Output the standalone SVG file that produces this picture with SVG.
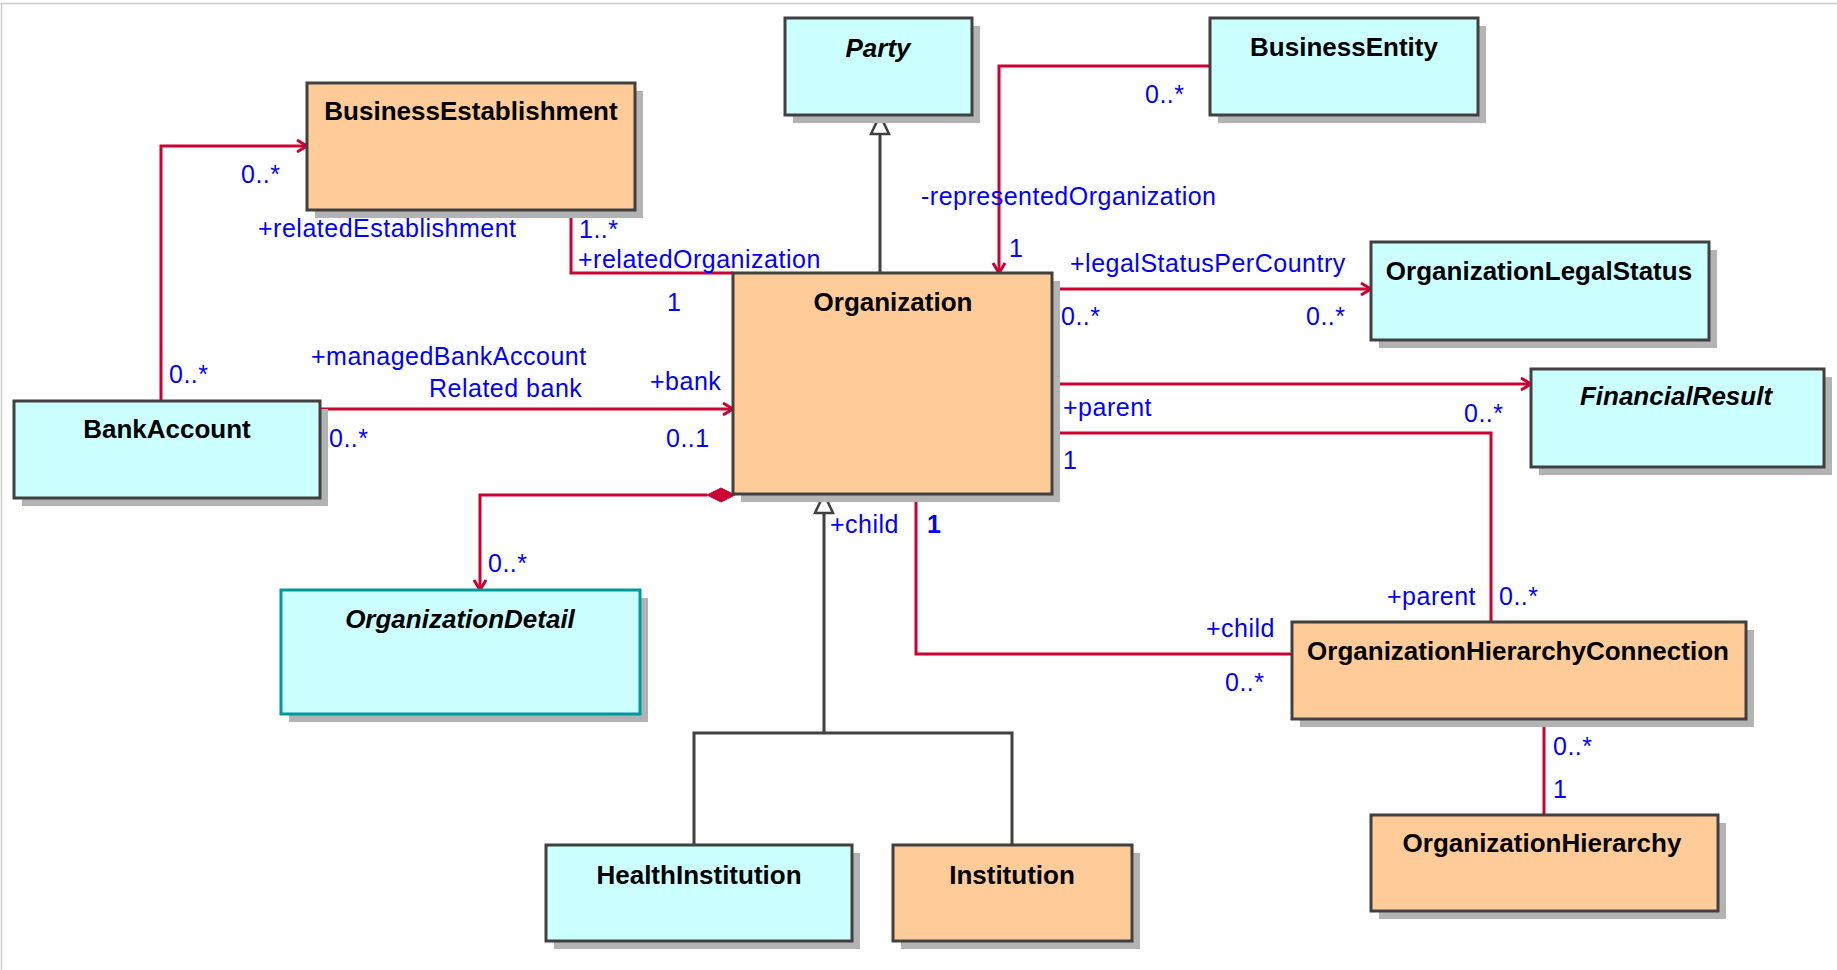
<svg xmlns="http://www.w3.org/2000/svg" width="1837" height="970" viewBox="0 0 1837 970">
<style>
.shadow{fill:#b3b3b3;}
.box{stroke:#404040;stroke-width:3;}
.orange{fill:#ffcc99;}
.cyan{fill:#ccffff;}
.title{font-family:"Liberation Sans",Arial,sans-serif;font-size:26px;font-weight:bold;fill:#000;text-anchor:middle;}
.ital{font-style:italic;}
.lbl{font-family:"Liberation Sans",Arial,sans-serif;font-size:25px;letter-spacing:0.5px;fill:#0000ff;}
.assoc{fill:none;stroke:#cc0033;stroke-width:3;}
.gen{fill:none;stroke:#404040;stroke-width:3;}
</style>
<defs>
<marker id="arrow" markerUnits="userSpaceOnUse" markerWidth="14" markerHeight="16" refX="11" refY="7" orient="auto" overflow="visible">
<path d="M1,1 L11,7 L1,13" fill="none" stroke="#cc0033" stroke-width="3"/>
</marker>
<marker id="tri" markerUnits="userSpaceOnUse" markerWidth="24" markerHeight="24" refX="21" refY="11" orient="auto" overflow="visible">
<path d="M2,2 L21,11 L2,20 Z" fill="#ffffff" stroke="#404040" stroke-width="2.5"/>
</marker>
</defs>
<rect x="0" y="0" width="1837" height="970" fill="#ffffff"/>
<line x1="0" y1="3.5" x2="1837" y2="3.5" stroke="#cccccc" stroke-width="1.5"/>
<line x1="1.5" y1="3" x2="1.5" y2="970" stroke="#cccccc" stroke-width="1.5"/>

<g id="connectors">
<path class="assoc" d="M161,401 V146 H307" marker-end="url(#arrow)"/>
<path class="assoc" d="M571,210 V273 H733"/>
<path class="assoc" d="M320,409 H733" marker-end="url(#arrow)"/>
<path class="assoc" d="M707,495 H480 V590" marker-end="url(#arrow)"/>
<polygon points="707,495 721,488 735,495 721,502" fill="#cc0033" stroke="#cc0033" stroke-width="1"/>
<path class="gen" d="M880,273 V115" marker-end="url(#tri)"/>
<path class="assoc" d="M1211,66 H999 V273" marker-end="url(#arrow)"/>
<path class="assoc" d="M1052,289 H1371" marker-end="url(#arrow)"/>
<path class="assoc" d="M1052,384 H1531" marker-end="url(#arrow)"/>
<path class="assoc" d="M1052,433 H1491 V622"/>
<path class="assoc" d="M916,494 V654 H1292"/>
<path class="gen" d="M694,845 V733 H1012 V845"/>
<path class="gen" d="M824,733 V494" marker-end="url(#tri)"/>
<path class="assoc" d="M1544,719 V815"/>
</g>

<g id="labels">
<text class="lbl" x="241" y="183">0..*</text>
<text class="lbl" x="258" y="237">+relatedEstablishment</text>
<text class="lbl" x="169" y="383">0..*</text>
<text class="lbl" x="579" y="238">1..*</text>
<text class="lbl" x="578" y="268">+relatedOrganization</text>
<text class="lbl" x="667" y="311">1</text>
<text class="lbl" x="311" y="365">+managedBankAccount</text>
<text class="lbl" x="429" y="397">Related bank</text>
<text class="lbl" x="650" y="390">+bank</text>
<text class="lbl" x="329" y="447">0..*</text>
<text class="lbl" x="666" y="447">0..1</text>
<text class="lbl" x="488" y="572">0..*</text>
<text class="lbl" x="1145" y="103">0..*</text>
<text class="lbl" x="921" y="205">-representedOrganization</text>
<text class="lbl" x="1009" y="257">1</text>
<text class="lbl" x="1070" y="272">+legalStatusPerCountry</text>
<text class="lbl" x="1061" y="325">0..*</text>
<text class="lbl" x="1306" y="325">0..*</text>
<text class="lbl" x="1464" y="422">0..*</text>
<text class="lbl" x="1063" y="416">+parent</text>
<text class="lbl" x="1063" y="469">1</text>
<text class="lbl" x="830" y="533">+child</text>
<text class="lbl" x="927" y="533" font-weight="bold">1</text>
<text class="lbl" x="1206" y="637">+child</text>
<text class="lbl" x="1225" y="691">0..*</text>
<text class="lbl" x="1387" y="605">+parent</text>
<text class="lbl" x="1499" y="605">0..*</text>
<text class="lbl" x="1553" y="755">0..*</text>
<text class="lbl" x="1553" y="798">1</text>
</g>

<g id="Party">
<rect class="shadow" x="793" y="26" width="187" height="97"/>
<rect class="box cyan" x="785" y="18" width="187" height="97"/>
<text class="title ital" x="878" y="57">Party</text>
</g>
<g id="BusinessEntity">
<rect class="shadow" x="1218" y="26" width="268" height="97"/>
<rect class="box cyan" x="1210" y="18" width="268" height="97"/>
<text class="title" x="1344" y="56">BusinessEntity</text>
</g>
<g id="BusinessEstablishment">
<rect class="shadow" x="315" y="91" width="328" height="127"/>
<rect class="box orange" x="307" y="83" width="328" height="127"/>
<text class="title" x="471" y="120">BusinessEstablishment</text>
</g>
<g id="Organization">
<rect class="shadow" x="741" y="281" width="319" height="221"/>
<rect class="box orange" x="733" y="273" width="319" height="221"/>
<text class="title" x="893" y="311">Organization</text>
</g>
<g id="OrganizationLegalStatus">
<rect class="shadow" x="1379" y="250" width="338" height="98"/>
<rect class="box cyan" x="1371" y="242" width="338" height="98"/>
<text class="title" x="1539" y="280">OrganizationLegalStatus</text>
</g>
<g id="FinancialResult">
<rect class="shadow" x="1539" y="377" width="293" height="98"/>
<rect class="box cyan" x="1531" y="369" width="293" height="98"/>
<text class="title ital" x="1676" y="405">FinancialResult</text>
</g>
<g id="BankAccount">
<rect class="shadow" x="22" y="409" width="306" height="97"/>
<rect class="box cyan" x="14" y="401" width="306" height="97"/>
<text class="title" x="167" y="438">BankAccount</text>
</g>
<g id="OrganizationDetail">
<rect class="shadow" x="289" y="598" width="359" height="124"/>
<rect x="281" y="590" width="359" height="124" fill="#ccffff" stroke="#009999" stroke-width="3"/>
<text class="title ital" x="460" y="628">OrganizationDetail</text>
</g>
<g id="OrganizationHierarchyConnection">
<rect class="shadow" x="1300" y="630" width="454" height="97"/>
<rect class="box orange" x="1292" y="622" width="454" height="97"/>
<text class="title" x="1518" y="660">OrganizationHierarchyConnection</text>
</g>
<g id="OrganizationHierarchy">
<rect class="shadow" x="1379" y="823" width="347" height="96"/>
<rect class="box orange" x="1371" y="815" width="347" height="96"/>
<text class="title" x="1542" y="852">OrganizationHierarchy</text>
</g>
<g id="HealthInstitution">
<rect class="shadow" x="554" y="853" width="306" height="96"/>
<rect class="box cyan" x="546" y="845" width="306" height="96"/>
<text class="title" x="699" y="884">HealthInstitution</text>
</g>
<g id="Institution">
<rect class="shadow" x="901" y="853" width="239" height="96"/>
<rect class="box orange" x="893" y="845" width="239" height="96"/>
<text class="title" x="1012" y="884">Institution</text>
</g>
</svg>
